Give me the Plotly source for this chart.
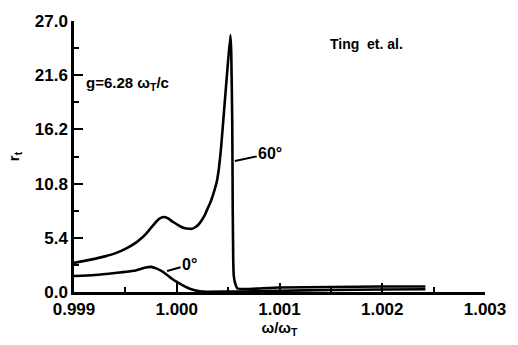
import plotly.graph_objects as go

# 60 degree curve
x60 = [0.9990, 0.9991, 0.9992, 0.9993, 0.9994, 0.9995, 0.9996, 0.99965, 0.9997,
       0.99975, 0.9998, 0.99983, 0.99986, 0.99989, 0.99992, 0.99996, 1.0000,
       1.00004, 1.00008, 1.00012, 1.00015, 1.00018, 1.00021, 1.00024, 1.00027,
       1.0003, 1.00033, 1.00036, 1.00039, 1.00041, 1.00043, 1.00046, 1.00049,
       1.000522, 1.00053, 1.00054, 1.000545, 1.00055, 1.000555, 1.00057, 1.00059,
       1.0007, 1.0008, 1.0010, 1.0015, 1.0020, 1.00242]
y60 = [2.9, 3.1, 3.3, 3.55, 3.85, 4.3, 4.9, 5.3, 5.8,
       6.4, 7.0, 7.3, 7.45, 7.45, 7.3, 7.0, 6.75,
       6.5, 6.35, 6.3, 6.3, 6.45, 6.7, 7.1, 7.6,
       8.3, 9.0, 9.9, 11.0, 12.3, 14.2, 18.0, 21.8,
       25.6, 24.0, 17.0, 8.0, 3.0, 1.6, 0.8, 0.35,
       0.3, 0.35, 0.45, 0.5, 0.55, 0.55]

# 0 degree curve
x0 = [0.9990, 0.9992, 0.9994, 0.9996, 0.99965, 0.9997, 0.99975, 0.9998,
      0.99985, 0.9999, 0.99995, 1.0000, 1.00005, 1.0001, 1.00015, 1.0002,
      1.00025, 1.0003, 1.0006, 1.0010, 1.0015, 1.0020, 1.00242]
y0 = [1.6, 1.7, 1.9, 2.15, 2.3, 2.45, 2.5, 2.35,
      2.1, 1.75, 1.35, 1.0, 0.7, 0.45, 0.25, 0.12,
      0.05, 0.03, 0.05, 0.12, 0.2, 0.25, 0.28]

xticks = [0.999, 1.000, 1.001, 1.002, 1.003]
xticklabels = ["0.999", "1.000", "1.001", "1.002", "1.003"]
yticks = [0.0, 5.4, 10.8, 16.2, 21.6, 27.0]
yticklabels = ["0.0", "5.4", "10.8", "16.2", "21.6", "27.0"]

FONT = "Liberation Sans"
line = dict(color="black", width=2.6, shape="spline", smoothing=0.4)

fig = go.Figure()
fig.add_trace(go.Scatter(x=x60, y=y60, mode="lines", line=line, showlegend=False))
fig.add_trace(go.Scatter(x=x0, y=y0, mode="lines", line=line, showlegend=False))

fig.update_layout(
    width=518, height=345,
    margin=dict(l=67, r=27, t=14, b=48),
    paper_bgcolor="white", plot_bgcolor="white",
    font=dict(family=FONT, color="black", size=16, weight="bold"),
    xaxis=dict(
        range=[0.999, 1.003], tickvals=xticks, ticktext=xticklabels,
        showgrid=False, zeroline=False, showline=True, linecolor="black", linewidth=2.5,
        ticks="inside", ticklen=9, tickwidth=2, tickcolor="black",
        minor=dict(dtick=0.0005, tick0=0.999, ticks="inside", ticklen=5, tickwidth=2, tickcolor="black"),
        tickfont=dict(size=17, family=FONT, weight="bold"),
        title=dict(text="ω/ω<sub>T</sub>", font=dict(size=15, family=FONT, weight="bold"), standoff=3),
    ),
    yaxis=dict(
        range=[0, 27], tickvals=yticks, ticktext=yticklabels,
        showgrid=False, zeroline=False, showline=True, linecolor="black", linewidth=2.5,
        ticks="inside", ticklen=9, tickwidth=2, tickcolor="black",
        minor=dict(dtick=2.7, tick0=0, ticks="inside", ticklen=5, tickwidth=2, tickcolor="black"),
        tickfont=dict(size=17, family=FONT, weight="bold"),
        title=dict(text="r<sub>t</sub>", font=dict(size=15, family=FONT, weight="bold"), standoff=12),
    ),
)

fig.add_annotation(x=0.99910, y=20.8, xref="x", yref="y", text="g=6.28 ω<sub>T</sub>/c",
                   showarrow=False, xanchor="left", font=dict(size=15, family=FONT, weight="bold"))
fig.add_annotation(x=1.00185, y=24.7, xref="x", yref="y", text="Ting  et. al.",
                   showarrow=False, font=dict(size=14, family=FONT, weight="bold"))
fig.add_annotation(x=0.999906, y=2.1, xref="x", yref="y", ax=1.000125, ay=2.7,
                   axref="x", ayref="y", text="0°", showarrow=True, arrowhead=0,
                   arrowwidth=2, arrowcolor="black",
                   font=dict(size=16, family=FONT, weight="bold"))
fig.add_annotation(x=1.000566, y=13.05, xref="x", yref="y", ax=1.00091, ay=13.8,
                   axref="x", ayref="y", text="60°", showarrow=True, arrowhead=0,
                   arrowwidth=2, arrowcolor="black",
                   font=dict(size=16, family=FONT, weight="bold"))

fig.write_html("out.html")
